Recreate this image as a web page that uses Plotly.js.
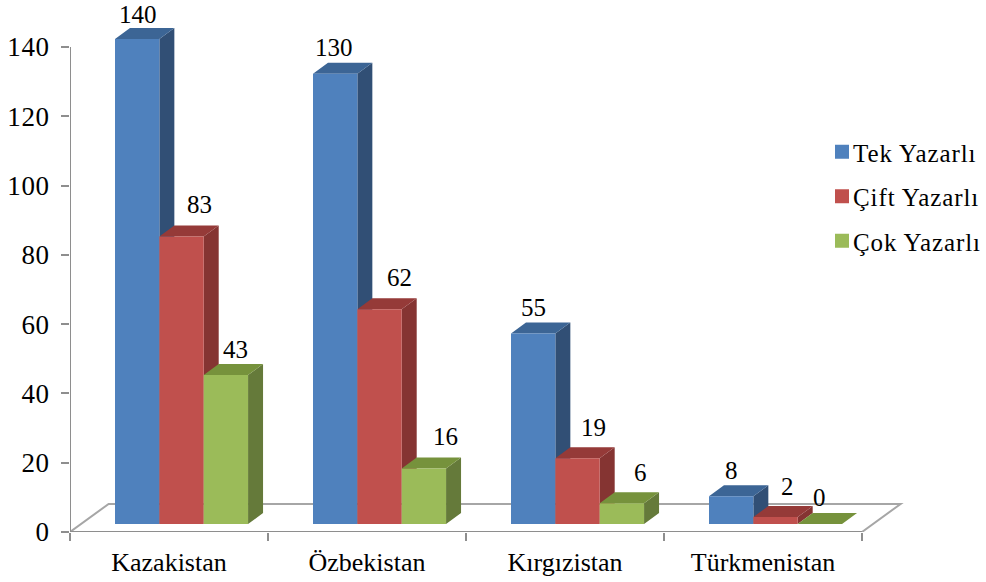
<!DOCTYPE html>
<html>
<head>
<meta charset="utf-8">
<script src="https://cdn.plot.ly/plotly-3.0.0.min.js"></script>
<style>
html,body{margin:0;padding:0;background:#fff}#c{width:986px;height:582px}
#c .legend text{letter-spacing:0.9px}
#c .xtick text{letter-spacing:1px}
#c .ytick text{letter-spacing:0.6px}
</style>
</head>
<body>
<div id="c"></div>
<script>
const categories = ["Kazakistan", "Özbekistan", "Kırgızistan", "Türkmenistan"];
const tekYazarli = [140, 130, 55, 8];
const ciftYazarli = [83, 62, 19, 2];
const cokYazarli = [43, 16, 6, 0];
const seriesNames = ["Tek Yazarlı", "Çift Yazarlı", "Çok Yazarlı"];
const frontColors = ["#4F81BD", "#C0504D", "#9BBB59"];
const sideColors = ["#314F75", "#853432", "#657A3A"];
const topColors = ["#3C6595", "#953A38", "#76923C"];
const labelShiftX = [[1, -1, 0, 0], [18, 20, 16, 12], [10, 22, 19, 0]];
const labelShiftY = [[25, 26, 26, 26], [32, 32, 31, 31], [26, 32, 31, 27]];

const FONT = "'Liberation Serif','Times New Roman',serif";
const barW = 0.224, barStart = -0.2727, baseVal = 2.3;
const depthX = 0.0757, depthY = 3.17;
const floorDX = 0.195, floorDY = 8.1;
const xMax = 3.7172, yMax = 152.12;
const allSeries = [tekYazarli, ciftYazarli, cokYazarli];

function facePolys(vals, s, kind) {
  const xs = [], ys = [];
  vals.forEach((v, i) => {
    const l = i + barStart + s * barW, r = l + barW, t = v + baseVal;
    if (kind === "side") {
      xs.push(r, r, r + depthX, r + depthX, r, null);
      ys.push(baseVal, t, t + depthY, baseVal + depthY, baseVal, null);
    } else {
      xs.push(l, r, r + depthX, l + depthX, l, null);
      ys.push(t, t, t + depthY, t + depthY, t, null);
    }
  });
  return {x: xs, y: ys};
}

const traces = [];
allSeries.forEach((vals, s) => {
  ["side", "top"].forEach(kind => {
    const p = facePolys(vals, s, kind);
    traces.push({
      type: "scatter", mode: "lines", x: p.x, y: p.y, xaxis: "x", yaxis: "y",
      fill: "toself", fillcolor: kind === "side" ? sideColors[s] : topColors[s],
      line: {width: 0}, showlegend: false, hoverinfo: "skip"
    });
  });
});
allSeries.forEach((vals, s) => {
  traces.push({
    type: "bar", name: seriesNames[s], x: categories, y: vals, xaxis: "x2", yaxis: "y",
    base: baseVal, width: barW, offset: barStart + s * barW,
    marker: {color: frontColors[s], line: {width: 0}},
    legendgroup: "g" + s
  });
});

const annotations = [];
allSeries.forEach((vals, s) => vals.forEach((v, i) => {
  annotations.push({
    xref: "x", yref: "y", x: i + barStart + (s + 0.5) * barW, y: v + baseVal,
    text: String(v), showarrow: false, xanchor: "center", yanchor: "middle",
    xshift: labelShiftX[s][i], yshift: labelShiftY[s][i],
    font: {family: FONT, size: 25, color: "#000"}
  });
}));

const axisColor = "#8E8E8E";
const layout = {
  width: 986, height: 582,
  margin: {l: 70, r: 81, t: 5, b: 50, pad: 0, autoexpand: false},
  paper_bgcolor: "#fff", plot_bgcolor: "#fff",
  barmode: "overlay",
  font: {family: FONT, size: 25, color: "#000"},
  xaxis: {type: "linear", range: [-0.5, xMax], visible: false, fixedrange: true},
  xaxis2: {
    type: "category", overlaying: "x", anchor: "y", side: "bottom",
    categoryorder: "array", categoryarray: categories, range: [-0.5, xMax],
    tickson: "boundaries", ticks: "outside", ticklen: 8, tickwidth: 2, tickcolor: axisColor,
    showline: false, showgrid: false, zeroline: false,
    tickfont: {family: FONT, size: 26, color: "#000"}, ticklabelstandoff: 12, fixedrange: true
  },
  yaxis: {
    range: [0, yMax], tickmode: "array", tickvals: [0, 20, 40, 60, 80, 100, 120, 140], anchor: "x",
    ticks: "outside", ticklen: 8, tickwidth: 2, tickcolor: axisColor,
    showline: false, showgrid: false, zeroline: false,
    tickfont: {family: FONT, size: 27, color: "#000"}, ticklabelstandoff: 6, fixedrange: true
  },
  shapes: [
    {type: "path", layer: "below", xref: "x", yref: "y",
     path: `M -0.5,0 L ${-0.5 + floorDX},${floorDY} L ${3.5 + floorDX},${floorDY} L 3.5,0`,
     line: {color: "#A6A6A6", width: 2}},
    {type: "line", layer: "below", xref: "x", yref: "y", x0: -0.5, x1: -0.5, y0: 0, y1: 140,
     line: {color: axisColor, width: 2}},
    {type: "line", layer: "below", xref: "x", yref: "y", x0: -0.5, x1: 3.5, y0: 0, y1: 0,
     line: {color: axisColor, width: 2}}
  ],
  annotations,
  showlegend: true,
  legend: {
    x: 0.9, xanchor: "left", y: 0.78, yanchor: "top", traceorder: "grouped", tracegroupgap: 9,
    bgcolor: "rgba(0,0,0,0)", borderwidth: 0,
    font: {family: FONT, size: 25, color: "#000"}
  }
};
layout.legend.x = (813 - 70) / (986 - 70 - 81);
layout.legend.y = 1 - (129 - 5) / 527;

Plotly.newPlot("c", traces, layout, {displayModeBar: false, staticPlot: true}).then(() => {
  document.querySelectorAll("#c .legend .legendsymbols").forEach(g => g.setAttribute("transform", "translate(9,0)"));
  document.querySelectorAll("#c .legend .legendpoints path").forEach(p => p.setAttribute("d", "M7,7H-7V-7H7Z"));
  document.querySelectorAll("#c .legend .scrollbox").forEach(g => g.removeAttribute("clip-path"));
  document.querySelectorAll("#c .legend").forEach(g => g.style.overflow = "visible");
  document.querySelectorAll("#c .legend .scrollbox").forEach(g => g.style.clipPath = "none");
});
</script>
</body>
</html>
